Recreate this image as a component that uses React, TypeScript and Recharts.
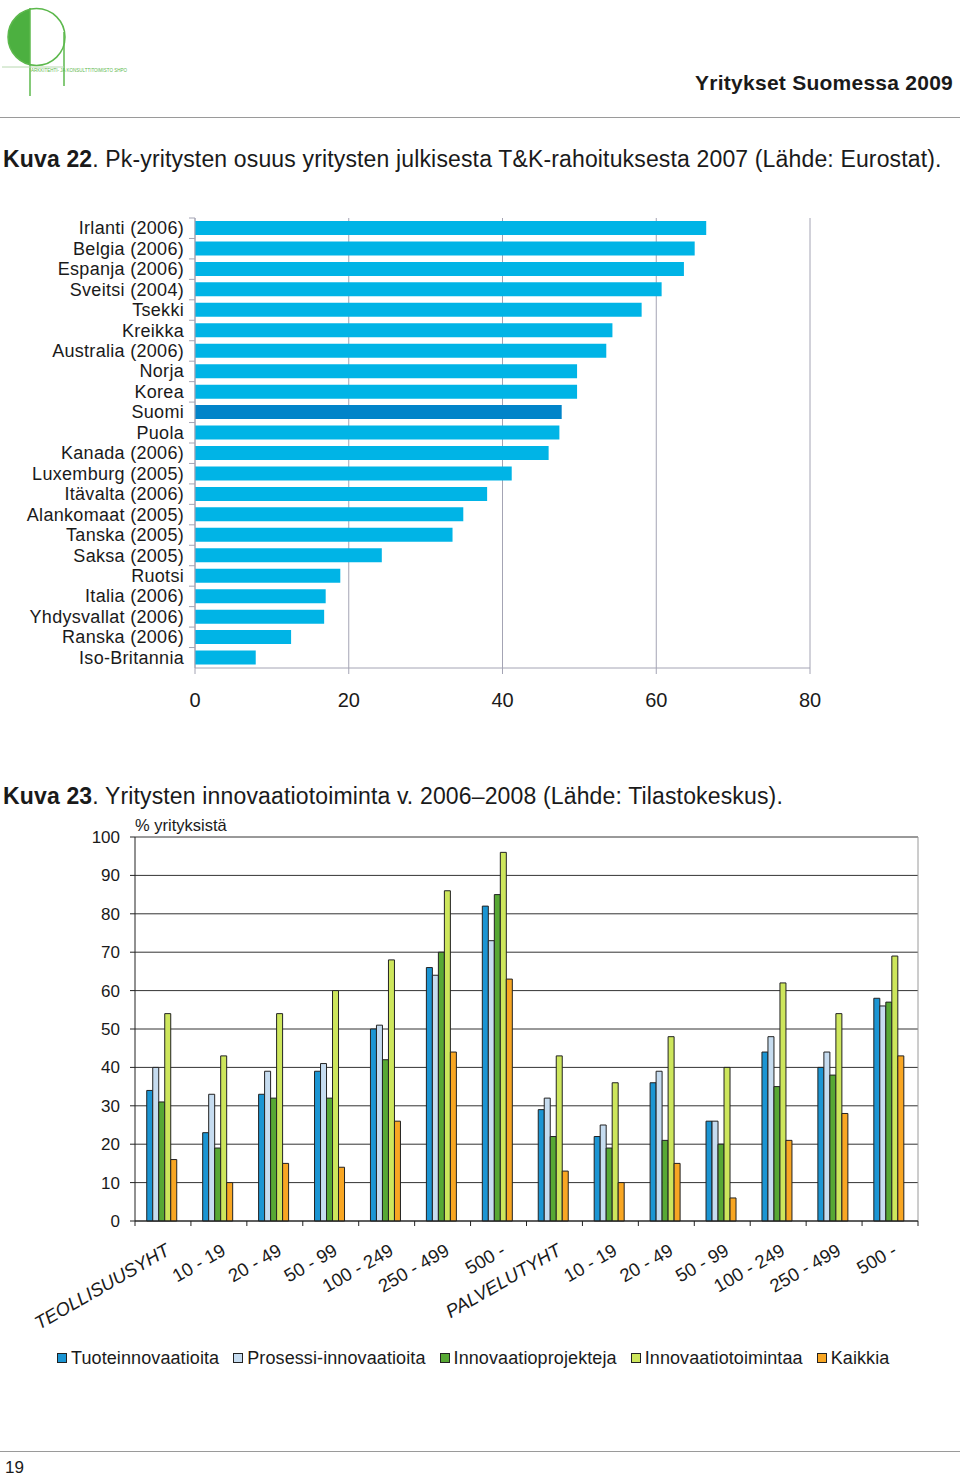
import React from 'react';
import {
  BarChart,
  Bar,
  XAxis,
  YAxis,
  CartesianGrid,
  Cell,
  Legend,
  ReferenceLine,
} from 'recharts';

const FONT = '"Liberation Sans", Arial, sans-serif';

// Kuva 22
const countries = [
  'Irlanti (2006)',
  'Belgia (2006)',
  'Espanja (2006)',
  'Sveitsi (2004)',
  'Tsekki',
  'Kreikka',
  'Australia (2006)',
  'Norja',
  'Korea',
  'Suomi',
  'Puola',
  'Kanada (2006)',
  'Luxemburg (2005)',
  'Itävalta (2006)',
  'Alankomaat (2005)',
  'Tanska (2005)',
  'Saksa (2005)',
  'Ruotsi',
  'Italia (2006)',
  'Yhdysvallat (2006)',
  'Ranska (2006)',
  'Iso-Britannia',
];
const smeShare = [
  66.5, 65.0, 63.6, 60.7, 58.1, 54.3, 53.5, 49.7, 49.7, 47.7, 47.4, 46.0,
  41.2, 38.0, 34.9, 33.5, 24.3, 18.9, 17.0, 16.8, 12.5, 7.9,
];
const highlighted = 'Suomi';
const shareTicks = [0, 20, 40, 60, 80];

// Kuva 23
const sizeClasses = [
  'TEOLLISUUSYHT',
  '10 - 19',
  '20 - 49',
  '50 - 99',
  '100 - 249',
  '250 - 499',
  '500 -',
  'PALVELUTYHT',
  '10 - 19',
  '20 - 49',
  '50 - 99',
  '100 - 249',
  '250 - 499',
  '500 -',
];
const tuote = [34, 23, 33, 39, 50, 66, 82, 29, 22, 36, 26, 44, 40, 58];
const prosessi = [40, 33, 39, 41, 51, 64, 73, 32, 25, 39, 26, 48, 44, 56];
const projektit = [31, 19, 32, 32, 42, 70, 85, 22, 19, 21, 20, 35, 38, 57];
const toiminta = [54, 43, 54, 60, 68, 86, 96, 43, 36, 48, 40, 62, 54, 69];
const kaikki = [16, 10, 15, 14, 26, 44, 63, 13, 10, 15, 6, 21, 28, 43];
const percentTicks = [0, 10, 20, 30, 40, 50, 60, 70, 80, 90, 100];

const series = [
  { key: 'tuote', name: 'Tuoteinnovaatioita', color: '#1b95d3' },
  { key: 'prosessi', name: 'Prosessi-innovaatioita', color: '#c6dcf0' },
  { key: 'projektit', name: 'Innovaatioprojekteja', color: '#57a834' },
  { key: 'toiminta', name: 'Innovaatiotoimintaa', color: '#cde65c' },
  { key: 'kaikki', name: 'Kaikkia', color: '#f8a623' },
];

const fundingData = countries.map((name, i) => ({ name, value: smeShare[i] }));
const innovationData = sizeClasses.map((name, i) => ({
  name,
  tuote: tuote[i],
  prosessi: prosessi[i],
  projektit: projektit[i],
  toiminta: toiminta[i],
  kaikki: kaikki[i],
}));

const countryBand = 450 / countries.length;
const groupBand = 783 / sizeClasses.length;

const CountryTick = (props: any) => {
  const { x, y, payload } = props;
  return (
    <g>
      <line x1={x + 5} x2={x + 11} y1={y - countryBand / 2} y2={y - countryBand / 2} stroke="#a4a4b4" />
      <text
        x={x}
        y={y}
        dy={6}
        textAnchor="end"
        fontSize={18}
        letterSpacing={0.3}
        fill="#1a1a1a"
        fontFamily={FONT}
      >
        {payload.value}
      </text>
    </g>
  );
};

const GroupTick = (props: any) => {
  const { x, y, payload, index } = props;
  const label: string = payload.value;
  const isTotal = /[A-Z]/.test(label);
  return (
    <g>
      <line x1={x - groupBand / 2} x2={x - groupBand / 2} y1={y - 8} y2={y - 3} stroke="#222" />
      {index === sizeClasses.length - 1 && (
        <line x1={x + groupBand / 2} x2={x + groupBand / 2} y1={y - 8} y2={y - 3} stroke="#222" />
      )}
      <text
        transform={`translate(${x + 8},${y + 25}) rotate(-30)`}
        textAnchor="end"
        fontSize={18.5}
        fontStyle={isTotal ? 'italic' : 'normal'}
        fill="#1a1a1a"
        fontFamily={FONT}
      >
        {label}
      </text>
    </g>
  );
};

const renderLegend = () => (
  <div
    style={{
      height: 30,
      display: 'flex',
      alignItems: 'center',
      paddingLeft: 57,
      fontSize: 18,
      letterSpacing: 0.1,
      fontFamily: FONT,
      color: '#1a1a1a',
    }}
  >
    {series.map((s) => (
      <span key={s.key} style={{ display: 'flex', alignItems: 'center', marginRight: 14 }}>
        <span
          style={{
            width: 8,
            height: 8,
            border: '1px solid #222',
            background: s.color,
            marginRight: 4,
          }}
        />
        {s.name}
      </span>
    ))}
  </div>
);

const Logo = () => (
  <svg width={130} height={100} style={{ position: 'absolute', left: 0, top: 0 }}>
    <defs>
      <clipPath id="lefthalf">
        <rect x={0} y={0} width={30} height={100} />
      </clipPath>
    </defs>
    <circle cx={36.5} cy={37} r={28.5} fill="#4cb040" clipPath="url(#lefthalf)" />
    <circle cx={36.5} cy={37} r={28.5} fill="none" stroke="#5cb84c" strokeWidth={1.5} />
    <line x1={30} x2={30} y1={8} y2={96} stroke="#5cb84c" strokeWidth={1.5} />
    <line x1={64} x2={64} y1={32} y2={86} stroke="#5cb84c" strokeWidth={1.5} />
    <line x1={2} x2={64} y1={67} y2={67} stroke="#b8d8b0" strokeWidth={1} />
    <text x={31} y={72} fontSize={4.5} fill="#5cb84c" fontFamily={FONT}>
      ARKKITEHTI- JA KONSULTTITOIMISTO SHPO
    </text>
  </svg>
);

export default function App() {
  return (
    <div
      style={{
        position: 'absolute',
        left: 0,
        top: 0,
        width: 960,
        height: 1476,
        background: '#fff',
        fontFamily: FONT,
        color: '#1a1a1a',
        overflow: 'hidden',
      }}
    >
      <Logo />
      <div
        style={{ position: 'absolute', right: 7, top: 71, fontSize: 21, fontWeight: 'bold', letterSpacing: 0.25 }}
      >
        Yritykset Suomessa 2009
      </div>
      <div style={{ position: 'absolute', left: 0, top: 117, width: 960, height: 1, background: '#9a9a9a' }} />
      <div style={{ position: 'absolute', left: 3, top: 146, fontSize: 23, letterSpacing: 0.15, whiteSpace: 'nowrap' }}>
        <b>Kuva 22</b>. Pk-yritysten osuus yritysten julkisesta T&amp;K-rahoituksesta 2007 (Lähde: Eurostat).
      </div>

      <div style={{ position: 'absolute', left: 0, top: 200 }}>
        <BarChart
          width={860}
          height={520}
          data={fundingData}
          layout="vertical"
          margin={{ top: 18, right: 50, left: 0, bottom: 0 }}
          barSize={14}
        >
          <CartesianGrid horizontal={false} stroke="#a4a4b4" />
          <XAxis
            type="number"
            domain={[0, 80]}
            ticks={shareTicks}
            height={52}
            tickMargin={19}
            stroke="#a4a4b4"
            tick={{ fontSize: 20, fill: '#1a1a1a', fontFamily: FONT }}
          />
          <YAxis
            type="category"
            dataKey="name"
            width={195}
            tickLine={false}
            tickMargin={5}
            stroke="#a4a4b4"
            interval={0}
            tick={<CountryTick />}
          />
          <Bar dataKey="value" isAnimationActive={false}>
            {fundingData.map((d) => (
              <Cell key={d.name} fill={d.name === highlighted ? '#0184c9' : '#00b4e6'} />
            ))}
          </Bar>
        </BarChart>
      </div>

      <div style={{ position: 'absolute', left: 3, top: 783, fontSize: 23, letterSpacing: 0.15, whiteSpace: 'nowrap' }}>
        <b>Kuva 23</b>. Yritysten innovaatiotoiminta v. 2006–2008 (Lähde: Tilastokeskus).
      </div>
      <div style={{ position: 'absolute', left: 135, top: 816, fontSize: 16.5 }}>% yrityksistä</div>

      <div style={{ position: 'absolute', left: 0, top: 810 }}>
        <BarChart
          width={960}
          height={585}
          data={innovationData}
          margin={{ top: 27, right: 42, left: 0, bottom: 22 }}
          barCategoryGap="21%"
          barGap={0}
        >
          <CartesianGrid vertical={false} stroke="#333" />
          <CartesianGrid horizontal={false} verticalPoints={[918]} stroke="#9a9a9a" />
          <ReferenceLine y={100} stroke="#9a9a9a" />
          <XAxis
            dataKey="name"
            interval={0}
            height={122}
            tickLine={false}
            stroke="#222"
            tick={<GroupTick />}
          />
          <YAxis
            domain={[0, 100]}
            ticks={percentTicks}
            width={135}
            tickSize={5}
            tickMargin={10}
            stroke="#222"
            tick={{ fontSize: 17, fill: '#1a1a1a', fontFamily: FONT }}
          />
          <Legend verticalAlign="bottom" content={renderLegend} wrapperStyle={{ left: 0, width: 960 }} />
          {series.map((s) => (
            <Bar
              key={s.key}
              dataKey={s.key}
              name={s.name}
              fill={s.color}
              stroke="#222"
              strokeWidth={1}
              isAnimationActive={false}
            />
          ))}
        </BarChart>
      </div>

      <div style={{ position: 'absolute', left: 0, top: 1451, width: 960, height: 1, background: '#9a9a9a' }} />
      <div style={{ position: 'absolute', left: 5, top: 1458, fontSize: 17 }}>19</div>
    </div>
  );
}
